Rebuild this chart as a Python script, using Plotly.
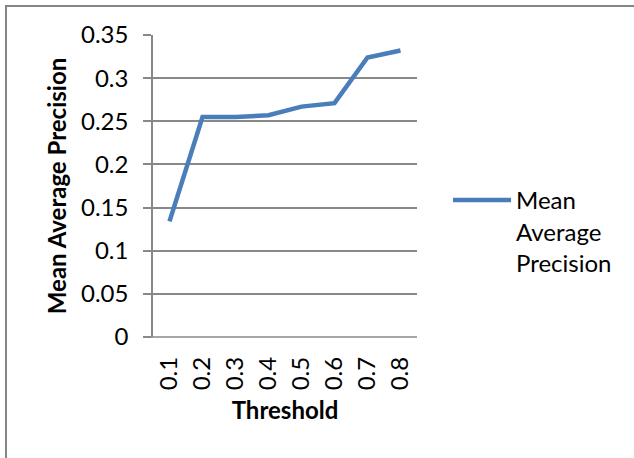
import plotly.graph_objects as go

thresholds = ["0.1", "0.2", "0.3", "0.4", "0.5", "0.6", "0.7", "0.8"]
map_values = [0.134, 0.255, 0.255, 0.257, 0.267, 0.271, 0.324, 0.332]
series_name = "Mean<br>Average<br>Precision"
y_ticks = [0, 0.05, 0.1, 0.15, 0.2, 0.25, 0.3, 0.35]
y_tick_text = ["0", "0.05", "0.1", "0.15", "0.2", "0.25", "0.3", "0.35"]

W, H = 634, 458
L, R, T, B = 153, 217, 35, 121
pw, ph = W - L - R, H - T - B

GRID = "#888888"
FONT = "Lato, 'Open Sans', sans-serif"
FS = 24

fig = go.Figure()
fig.add_trace(go.Scatter(
    x=thresholds, y=map_values, mode="lines", name=series_name,
    line=dict(color="#4A7EBB", width=4.5),
))

fig.update_layout(
    width=W, height=H,
    margin=dict(l=L, r=R, t=T, b=B, pad=0),
    paper_bgcolor="white", plot_bgcolor="white",
    font=dict(family=FONT, size=FS, color="#000000"),
    showlegend=True,
    legend=dict(
        x=(448 - L) / pw, xanchor="left",
        y=(H - B - 178) / ph, yanchor="top",
        valign="top", bgcolor="rgba(0,0,0,0)",
        font=dict(size=FS, family=FONT),
        itemwidth=58,
        tracegroupgap=0,
    ),
    xaxis=dict(
        type="category", range=[-0.5, 7.5],
        tickangle=-90, showgrid=False, ticks="",
        showline=False, zeroline=False,
        tickfont=dict(size=FS),
        ticklabelstandoff=14,
        title=dict(text="<b>Threshold</b>", font=dict(size=FS), standoff=12),
    ),
    yaxis=dict(
        range=[0, 0.35], tickvals=y_ticks, ticktext=y_tick_text,
        showgrid=True, gridcolor=GRID, gridwidth=1.5,
        showline=True, linecolor=GRID, linewidth=1.5,
        ticks="outside", ticklen=8, tickcolor=GRID, tickwidth=1.5,
        zeroline=False,
        tickfont=dict(size=FS),
        ticklabelstandoff=10,
        title=dict(text="<b>Mean Average Precision</b>", font=dict(size=FS), standoff=8),
    ),
)

# bottom axis line (gridline at 0)
fig.add_shape(type="line", xref="paper", yref="paper", x0=-8 / pw, x1=1, y0=0, y1=0,
              line=dict(color=GRID, width=1.5), layer="below")

# outer chart frame: only its left and top edges fall inside the picture
frame_js = (
    "document.body.style.margin='0';"
    "document.body.style.overflow='hidden';"
    "var d=document.createElement('div');"
    "d.style.cssText='position:absolute;left:5px;top:5px;width:700px;height:600px;"
    "border-left:2px solid #868686;border-top:2px solid #868686;pointer-events:none;z-index:10;';"
    "document.body.appendChild(d);"
)

fig.write_html("out.html", config={"displayModeBar": False}, post_script=frame_js)
